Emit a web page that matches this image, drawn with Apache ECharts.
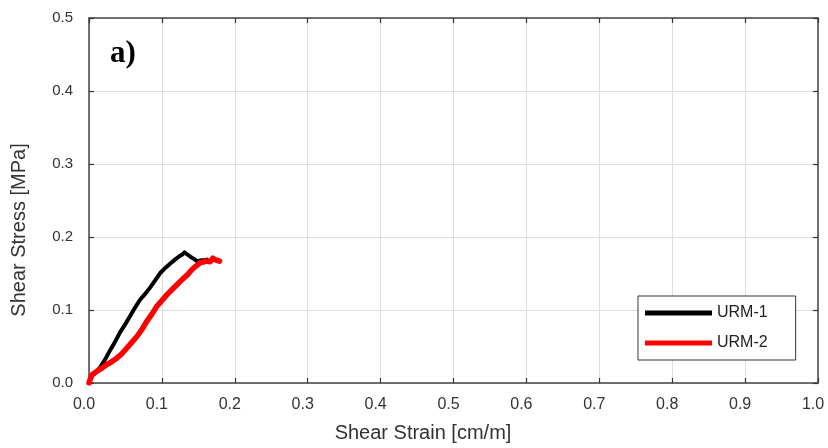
<!DOCTYPE html>
<html>
<head>
<meta charset="utf-8">
<script src="https://cdn.jsdelivr.net/npm/echarts@6/dist/echarts.min.js"></script>
<style>
  html, body { margin: 0; padding: 0; background: #fff; }
  #chart { width: 828px; height: 448px; }
</style>
</head>
<body>
<div id="chart"></div>
<script>
// Shear strain [cm/m] vs shear stress [MPa] for the two unreinforced specimens
const seriesNames = ['URM-1', 'URM-2'];

const urm1Strain = [0.000, 0.004, 0.009, 0.015, 0.022, 0.029, 0.036, 0.043, 0.050, 0.056, 0.063, 0.070, 0.077, 0.084, 0.091, 0.098, 0.105, 0.112, 0.118, 0.123, 0.128, 0.131, 0.135, 0.139, 0.144, 0.148, 0.153, 0.158, 0.162];
const urm1Stress = [0.002, 0.010, 0.014, 0.021, 0.032, 0.045, 0.057, 0.070, 0.081, 0.091, 0.103, 0.114, 0.122, 0.131, 0.141, 0.151, 0.158, 0.164, 0.169, 0.173, 0.176, 0.179, 0.176, 0.173, 0.170, 0.167, 0.168, 0.168, 0.169];

const urm2Strain = [0.000, 0.002, 0.004, 0.008, 0.011, 0.017, 0.024, 0.031, 0.038, 0.045, 0.052, 0.059, 0.066, 0.073, 0.079, 0.086, 0.093, 0.100, 0.107, 0.114, 0.121, 0.128, 0.135, 0.140, 0.144, 0.148, 0.153, 0.158, 0.162, 0.166, 0.170, 0.173, 0.176, 0.179];
const urm2Stress = [0.000, 0.006, 0.011, 0.014, 0.016, 0.020, 0.025, 0.029, 0.034, 0.040, 0.048, 0.056, 0.064, 0.074, 0.084, 0.094, 0.105, 0.113, 0.121, 0.128, 0.135, 0.142, 0.148, 0.154, 0.158, 0.161, 0.165, 0.166, 0.167, 0.166, 0.171, 0.169, 0.168, 0.167];

const xTicks = [0.0, 0.1, 0.2, 0.3, 0.4, 0.5, 0.6, 0.7, 0.8, 0.9, 1.0];
const yTicks = [0.0, 0.1, 0.2, 0.3, 0.4, 0.5];
const xTitle = 'Shear Strain [cm/m]';
const yTitle = 'Shear Stress [MPa]';
const panelLabel = 'a)';

const pair = (xs, ys) => xs.map((x, i) => [x, ys[i]]);

const sans = 'Arial, "Liberation Sans", sans-serif';
const axisText = { color: '#333', fontFamily: sans, fontSize: 15 };

function boxAxis(base) {
  return Object.assign({
    type: 'value',
    axisLine: { show: true, onZero: false, lineStyle: { color: '#444', width: 1.5 } },
    axisTick: { show: true, inside: true, length: 5, lineStyle: { color: '#333', width: 1.2 } },
    splitLine: { show: false },
    axisLabel: { show: false }
  }, base);
}

const chart = echarts.init(document.getElementById('chart'), null, { renderer: 'canvas' });

chart.setOption({
  animation: false,
  backgroundColor: '#fff',
  grid: { left: 89, right: 10, top: 18, bottom: 65, containLabel: false },
  xAxis: [
    boxAxis({
      position: 'bottom', min: xTicks[0], max: xTicks[xTicks.length - 1], interval: 0.1,
      splitLine: { show: true, lineStyle: { color: '#dedede', width: 1 } },
      axisLabel: Object.assign({ show: true, margin: 14, padding: [0, 10, 0, 0], formatter: v => v.toFixed(1) },
        axisText, { fontSize: 16 })
    }),
    boxAxis({ position: 'top', min: xTicks[0], max: xTicks[xTicks.length - 1], interval: 0.1 })
  ],
  yAxis: [
    boxAxis({
      position: 'left', min: yTicks[0], max: yTicks[yTicks.length - 1], interval: 0.1,
      splitLine: { show: true, lineStyle: { color: '#dedede', width: 1 } },
      axisLabel: Object.assign({ show: true, margin: 16, formatter: v => v.toFixed(1) }, axisText)
    }),
    boxAxis({ position: 'right', min: yTicks[0], max: yTicks[yTicks.length - 1], interval: 0.1 })
  ],
  legend: {
    orient: 'vertical',
    left: 638,
    top: 296,
    padding: [8, 28, 8, 7],
    itemGap: 12,
    itemWidth: 67,
    itemHeight: 5,
    icon: 'rect',
    borderColor: '#333',
    borderWidth: 1,
    backgroundColor: '#fff',
    textStyle: { color: '#222', fontFamily: sans, fontSize: 16, lineHeight: 18 },
    data: seriesNames
  },
  graphic: [
    {
      type: 'text',
      left: 110,
      top: 38,
      style: { text: panelLabel, fill: '#000', font: 'bold 31px "Liberation Serif", "Times New Roman", serif' }
    },
    {
      type: 'text',
      x: 423, y: 433,
      style: { text: xTitle, fill: '#333', font: '20px ' + sans, align: 'center', verticalAlign: 'middle' }
    },
    {
      type: 'text',
      x: 19, y: 230,
      rotation: Math.PI / 2,
      style: { text: yTitle, fill: '#333', font: '20px ' + sans, align: 'center', verticalAlign: 'middle' }
    }
  ],
  series: [
    {
      name: seriesNames[0], type: 'line', showSymbol: false, symbol: 'none',
      data: pair(urm1Strain, urm1Stress),
      lineStyle: { color: '#000', width: 4, join: 'round', cap: 'round' },
      itemStyle: { color: '#000' }, z: 3
    },
    {
      name: seriesNames[1], type: 'line', showSymbol: false, symbol: 'none',
      data: pair(urm2Strain, urm2Stress),
      lineStyle: { color: '#ff0000', width: 5.5, join: 'round', cap: 'round' },
      itemStyle: { color: '#ff0000' }, z: 4
    }
  ]
});
</script>
</body>
</html>
